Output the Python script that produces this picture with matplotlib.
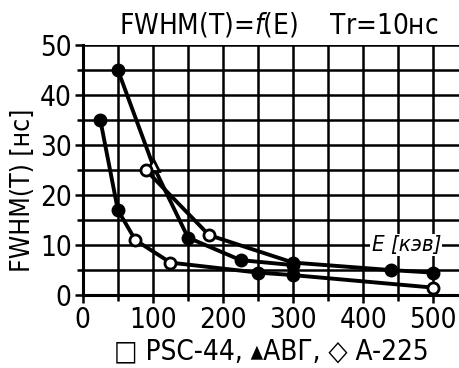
import matplotlib.pyplot as plt
from matplotlib.ticker import MultipleLocator

# энергия E [кэВ] и ширина FWHM(T) [нс]
psc_e = [25, 50, 75, 125, 250, 300, 500]
psc_w = [35, 17, 11, 6.5, 4.5, 4, 1.5]
avg_e = [50, 100, 150, 225, 300]
avg_w = [45, 26, 11.5, 7, 6]
a225_e = [90, 180, 300, 440, 500]
a225_w = [25, 12, 6.5, 5, 4.5]
x_ticks = [0, 100, 200, 300, 400, 500]
y_ticks = [0, 10, 20, 30, 40, 50]

plt.rcParams['font.family'] = ['DejaVu Sans']
plt.rcParams['font.stretch'] = 'condensed'

fig = plt.figure(figsize=(4.6, 3.68), dpi=100)
ax = fig.add_axes([0.180, 0.198, 0.82, 0.68])

def curve(xs, ys, filled, opened, mk_f='o', mk_o='o'):
    ax.plot(xs, ys, color='black', lw=2.8, zorder=3)
    ax.plot([xs[i] for i in filled], [ys[i] for i in filled], ls='none',
            marker=mk_f, ms=9, mfc='black', mec='black', zorder=4)
    ax.plot([xs[i] for i in opened], [ys[i] for i in opened], ls='none',
            marker=mk_o, ms=8, mfc='white', mec='black', mew=2, zorder=5)

curve(psc_e, psc_w, [0, 1, 4, 5], [2, 3, 6])
curve(avg_e, avg_w, [0, 2, 3, 4], [1], mk_f='o', mk_o='^')
curve(a225_e, a225_w, [2, 3, 4], [0, 1], mk_o='o')

ax.set_xlim(0, 538)
ax.set_ylim(0, 50)
ax.set_xticks(x_ticks)
ax.set_yticks(y_ticks)
ax.xaxis.set_minor_locator(MultipleLocator(50))
ax.yaxis.set_minor_locator(MultipleLocator(5))
ax.grid(True, which='both', color='black', lw=1.8)
ax.tick_params(which='both', direction='out', width=1.8, color='black', labelsize=20, pad=2)
ax.tick_params(which='major', length=6)
ax.tick_params(which='minor', length=4)
for s in ['top', 'right']:
    ax.spines[s].set_visible(False)
for s in ['left', 'bottom']:
    ax.spines[s].set_linewidth(2.2)

ax.set_title(r'FWHM(T)=$f$(E)    Tr=10нс', fontsize=20, pad=8, x=0.52)
ax.set_ylabel('FWHM(T) [нс]', fontsize=19)
ax.yaxis.set_label_coords(-0.125, 0.42)
ax.set_xlabel('□ PSC-44, ▴АВГ, ◇ A-225', fontsize=20, labelpad=2)
ax.text(412, 10, 'E [кэв]', fontsize=16, style='italic', va='center',
        bbox=dict(facecolor='white', edgecolor='none', pad=1), zorder=6)

fig.savefig('out.png', dpi=100)
